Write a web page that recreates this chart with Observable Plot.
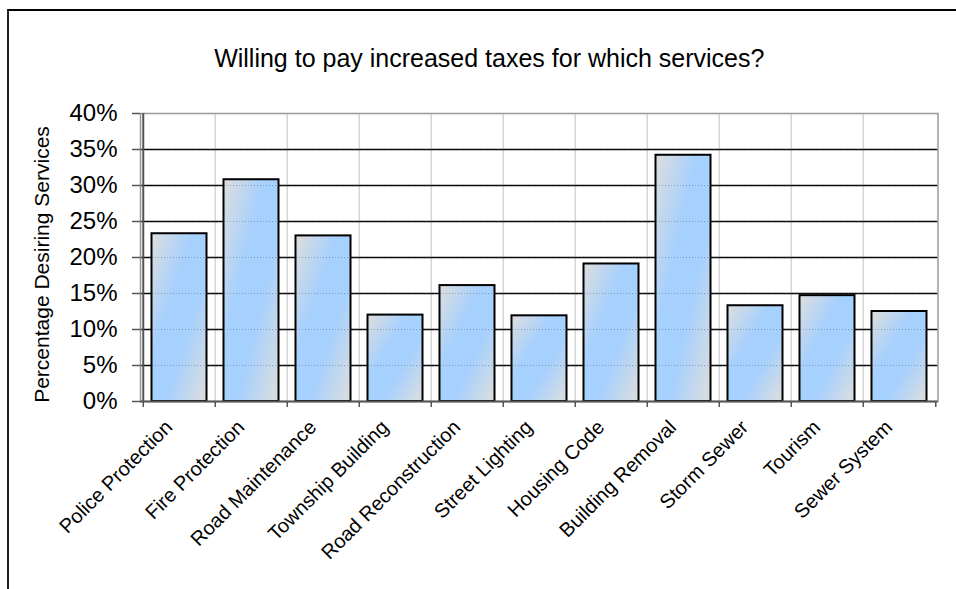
<!DOCTYPE html>
<html><head><meta charset="utf-8">
<script src="https://cdn.jsdelivr.net/npm/d3@7"></script>
<script src="https://cdn.jsdelivr.net/npm/@observablehq/plot@0.6"></script>
<style>
html,body{margin:0;padding:0;background:#fff;}
#wrap{position:relative;width:956px;height:589px;overflow:hidden;background:#fff;}
#chart{position:absolute;left:0;top:0;}
#border{position:absolute;left:7px;top:9px;width:1000px;height:700px;border-left:2px solid #222;border-top:2px solid #000;pointer-events:none;}
</style></head><body>
<div id="wrap"><div id="chart"></div><div id="border"></div></div>
<script>
const title = "Willing to pay increased taxes for which services?";
const yLabel = "Percentage Desiring Services";
const categories = ["Police Protection","Fire Protection","Road Maintenance","Township Building","Road Reconstruction","Street Lighting","Housing Code","Building Removal","Storm Sewer","Tourism","Sewer System"];
const values = [0.233, 0.308, 0.230, 0.120, 0.161, 0.119, 0.191, 0.342, 0.133, 0.147, 0.125];
const yTicks = [0, 0.05, 0.10, 0.15, 0.20, 0.25, 0.30, 0.35, 0.40];
const yTickLabels = ["0%","5%","10%","15%","20%","25%","30%","35%","40%"];

const data = categories.map((c, i) => ({category: c, value: values[i]}));

const W = 956, H = 589;
const mL = 140, mR = 18.5, mT = 113, mB = 188;
const plotW = W - mL - mR, plotH = H - mT - mB;
const half = plotW / categories.length / 2;

function gradientDefs() {
  const ns = "http://www.w3.org/2000/svg";
  const defs = document.createElementNS(ns, "defs");
  const lg = document.createElementNS(ns, "linearGradient");
  lg.setAttribute("id", "barGrad");
  lg.setAttribute("x1", "0"); lg.setAttribute("y1", "0");
  lg.setAttribute("x2", "1"); lg.setAttribute("y2", "1");
  [["0", "#dedede"], ["0.38", "#a6d0fd"], ["0.62", "#a6d0fd"], ["1", "#dedede"]].forEach(([o, c]) => {
    const s = document.createElementNS(ns, "stop");
    s.setAttribute("offset", o); s.setAttribute("stop-color", c);
    lg.appendChild(s);
  });
  defs.appendChild(lg);
  return defs;
}

const chart = Plot.plot({
  width: W, height: H,
  marginLeft: mL, marginRight: mR, marginTop: mT, marginBottom: mB,
  style: {fontFamily: "'Liberation Sans', Arial, sans-serif", background: "transparent", color: "black", overflow: "visible"},
  x: {type: "band", domain: categories, padding: 0, axis: null},
  y: {domain: [0, 0.4]},
  marks: [
    gradientDefs,
    Plot.ruleX(categories.slice(1), {x: d => d, dx: -half, stroke: "#cccccc", strokeWidth: 1.2}),
    Plot.ruleY(yTicks.filter(d => d > 0 && d < 0.4), {stroke: "black", strokeWidth: 1.5}),
    Plot.frame({stroke: "#999", strokeWidth: 1.5}),
    Plot.barY(data, {x: "category", y: "value", fill: "url(#barGrad)", stroke: "black", strokeWidth: 2, insetLeft: 8.5, insetRight: 8.5}),
    Plot.ruleY(yTicks.filter(d => d > 0 && d < 0.4), {stroke: "#445566", strokeOpacity: 0.45, strokeWidth: 1, strokeDasharray: "1,2"}),
    Plot.ruleX(categories, {x: d => d, dx: -half, insetTop: plotH, insetBottom: -6, stroke: "#555", strokeWidth: 1.5}),
    Plot.ruleX(categories.slice(-1), {x: d => d, dx: half, insetTop: plotH, insetBottom: -6, stroke: "#555", strokeWidth: 1.5}),
    Plot.ruleX(categories.slice(0, 1), {x: d => d, dx: -half, stroke: "#555", strokeWidth: 2}),
    Plot.ruleY([0], {stroke: "#555", strokeWidth: 2}),
    Plot.axisY({ticks: yTicks, tickFormat: d => yTickLabels[yTicks.indexOf(d)], tickSize: 8, tickPadding: 15, fontSize: 24, label: null, stroke: "#555", strokeWidth: 1.5}),
    Plot.text(categories, {x: d => d, frameAnchor: "bottom", rotate: -45, textAnchor: "end", dx: -6, dy: 27, fontSize: 20, fill: "black"}),
    Plot.text([yLabel], {frameAnchor: "left", textAnchor: "middle", rotate: -90, dx: -98, dy: 7, fontSize: 21, fill: "black"}),
    Plot.text([title], {frameAnchor: "top", dx: -50, dy: -64, fontSize: 25, fill: "black"})
  ]
});
document.getElementById("chart").appendChild(chart);
</script>
</body></html>
